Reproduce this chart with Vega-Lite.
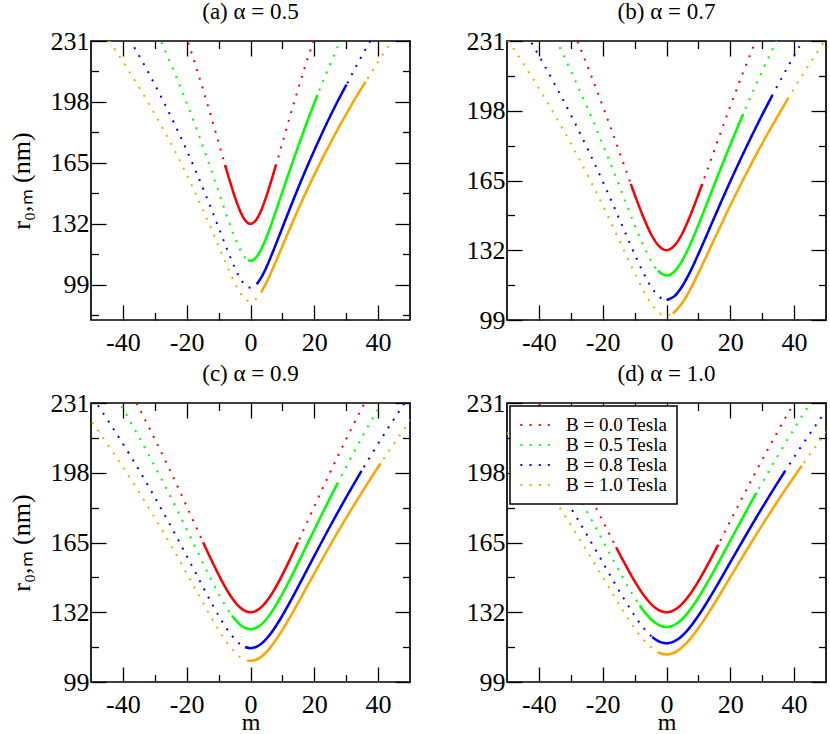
{
"$schema": "https://vega.github.io/schema/vega-lite/v6.json",
"padding": {"left": 7, "top": 0, "right": 2, "bottom": 0},
"bounds": "flush",
"columns": 2,
"spacing": {"row": 83, "column": 97},
"resolve": {"scale": {"color": "independent"}},
"config": {
  "font": "Liberation Serif",
  "view": {"stroke": "black", "strokeWidth": 1.7},
  "axis": {"domain": false, "grid": false, "tickColor": "black", "tickWidth": 1.3, "labelColor": "black", "labelFont": "Liberation Serif", "labelFontSize": 26, "titleFont": "Liberation Serif", "titleFontSize": 26, "titleFontWeight": "normal", "titleColor": "black", "labelFlush": false, "labelOverlap": false},
  "title": {"font": "Liberation Serif", "fontSize": 23, "fontWeight": "normal", "color": "black", "offset": 4, "anchor": "middle", "frame": "group"},
  "legend": {"strokeWidth": 1.5}
},
"datasets": {
"a": [
{"B":"B = 0.0 Tesla","m":-20.4,"r":234.73,"s":0},{"B":"B = 0.0 Tesla","m":-17,"r":216.6,"s":0},{"B":"B = 0.0 Tesla","m":-13.6,"r":197.39,"s":0},{"B":"B = 0.0 Tesla","m":-10.2,"r":177.23,"s":0},{"B":"B = 0.0 Tesla","m":-8,"r":164,"s":1},{"B":"B = 0.0 Tesla","m":-6.8,"r":156.98,"s":1},{"B":"B = 0.0 Tesla","m":-5.1,"r":147.58,"s":1},{"B":"B = 0.0 Tesla","m":-3.4,"r":139.57,"s":1},{"B":"B = 0.0 Tesla","m":-1.7,"r":134.02,"s":1},{"B":"B = 0.0 Tesla","m":0,"r":132,"s":1},{"B":"B = 0.0 Tesla","m":1.7,"r":134.02,"s":1},{"B":"B = 0.0 Tesla","m":3.4,"r":139.57,"s":1},{"B":"B = 0.0 Tesla","m":5.1,"r":147.58,"s":1},{"B":"B = 0.0 Tesla","m":6.8,"r":156.98,"s":1},{"B":"B = 0.0 Tesla","m":8,"r":164,"s":1},{"B":"B = 0.0 Tesla","m":10.2,"r":177.23,"s":0},{"B":"B = 0.0 Tesla","m":13.6,"r":197.39,"s":0},{"B":"B = 0.0 Tesla","m":17,"r":216.6,"s":0},{"B":"B = 0.0 Tesla","m":20.4,"r":234.73,"s":0},
{"B":"B = 0.5 Tesla","m":-34,"r":252.91,"s":0},{"B":"B = 0.5 Tesla","m":-27.2,"r":227.42,"s":0},{"B":"B = 0.5 Tesla","m":-20.4,"r":199.17,"s":0},{"B":"B = 0.5 Tesla","m":-17,"r":183.78,"s":0},{"B":"B = 0.5 Tesla","m":-13.6,"r":167.48,"s":0},{"B":"B = 0.5 Tesla","m":-10.2,"r":150.38,"s":0},{"B":"B = 0.5 Tesla","m":-6.8,"r":133.19,"s":0},{"B":"B = 0.5 Tesla","m":-5.1,"r":125.22,"s":0},{"B":"B = 0.5 Tesla","m":-3.4,"r":118.43,"s":0},{"B":"B = 0.5 Tesla","m":-1.7,"r":113.71,"s":0},{"B":"B = 0.5 Tesla","m":-0.8,"r":112.39,"s":1},{"B":"B = 0.5 Tesla","m":0,"r":112,"s":1},{"B":"B = 0.5 Tesla","m":1.7,"r":113.71,"s":1},{"B":"B = 0.5 Tesla","m":3.4,"r":118.43,"s":1},{"B":"B = 0.5 Tesla","m":5.1,"r":125.22,"s":1},{"B":"B = 0.5 Tesla","m":6.8,"r":133.19,"s":1},{"B":"B = 0.5 Tesla","m":10.2,"r":150.38,"s":1},{"B":"B = 0.5 Tesla","m":13.6,"r":167.48,"s":1},{"B":"B = 0.5 Tesla","m":17,"r":183.78,"s":1},{"B":"B = 0.5 Tesla","m":20.4,"r":199.17,"s":1},{"B":"B = 0.5 Tesla","m":21,"r":201.8,"s":1},{"B":"B = 0.5 Tesla","m":27.2,"r":227.42,"s":0},{"B":"B = 0.5 Tesla","m":34,"r":252.91,"s":0},
{"B":"B = 0.8 Tesla","m":-40.8,"r":240.47,"s":0},{"B":"B = 0.8 Tesla","m":-34,"r":220.16,"s":0},{"B":"B = 0.8 Tesla","m":-27.2,"r":197.98,"s":0},{"B":"B = 0.8 Tesla","m":-20.4,"r":173.38,"s":0},{"B":"B = 0.8 Tesla","m":-17,"r":159.99,"s":0},{"B":"B = 0.8 Tesla","m":-13.6,"r":145.8,"s":0},{"B":"B = 0.8 Tesla","m":-10.2,"r":130.91,"s":0},{"B":"B = 0.8 Tesla","m":-6.8,"r":115.95,"s":0},{"B":"B = 0.8 Tesla","m":-5.1,"r":109.01,"s":0},{"B":"B = 0.8 Tesla","m":-3.4,"r":103.09,"s":0},{"B":"B = 0.8 Tesla","m":-1.7,"r":98.99,"s":0},{"B":"B = 0.8 Tesla","m":0,"r":97.5,"s":0},{"B":"B = 0.8 Tesla","m":1.7,"r":98.99,"s":0},{"B":"B = 0.8 Tesla","m":2,"r":99.55,"s":1},{"B":"B = 0.8 Tesla","m":3.4,"r":103.09,"s":1},{"B":"B = 0.8 Tesla","m":5.1,"r":109.01,"s":1},{"B":"B = 0.8 Tesla","m":6.8,"r":115.95,"s":1},{"B":"B = 0.8 Tesla","m":10.2,"r":130.91,"s":1},{"B":"B = 0.8 Tesla","m":13.6,"r":145.8,"s":1},{"B":"B = 0.8 Tesla","m":17,"r":159.99,"s":1},{"B":"B = 0.8 Tesla","m":20.4,"r":173.38,"s":1},{"B":"B = 0.8 Tesla","m":27.2,"r":197.98,"s":1},{"B":"B = 0.8 Tesla","m":30.1,"r":207.4,"s":1},{"B":"B = 0.8 Tesla","m":34,"r":220.16,"s":0},{"B":"B = 0.8 Tesla","m":40.8,"r":240.47,"s":0},
{"B":"B = 1.0 Tesla","m":-47.6,"r":239.32,"s":0},{"B":"B = 1.0 Tesla","m":-40.8,"r":221.97,"s":0},{"B":"B = 1.0 Tesla","m":-34,"r":203.23,"s":0},{"B":"B = 1.0 Tesla","m":-27.2,"r":182.75,"s":0},{"B":"B = 1.0 Tesla","m":-20.4,"r":160.05,"s":0},{"B":"B = 1.0 Tesla","m":-17,"r":147.68,"s":0},{"B":"B = 1.0 Tesla","m":-13.6,"r":134.58,"s":0},{"B":"B = 1.0 Tesla","m":-10.2,"r":120.84,"s":0},{"B":"B = 1.0 Tesla","m":-6.8,"r":107.03,"s":0},{"B":"B = 1.0 Tesla","m":-5.1,"r":100.62,"s":0},{"B":"B = 1.0 Tesla","m":-3.4,"r":95.16,"s":0},{"B":"B = 1.0 Tesla","m":-1.7,"r":91.37,"s":0},{"B":"B = 1.0 Tesla","m":0,"r":90,"s":0},{"B":"B = 1.0 Tesla","m":1.7,"r":91.37,"s":0},{"B":"B = 1.0 Tesla","m":3.5,"r":95.45,"s":1},{"B":"B = 1.0 Tesla","m":5.1,"r":100.62,"s":1},{"B":"B = 1.0 Tesla","m":6.8,"r":107.03,"s":1},{"B":"B = 1.0 Tesla","m":10.2,"r":120.84,"s":1},{"B":"B = 1.0 Tesla","m":13.6,"r":134.58,"s":1},{"B":"B = 1.0 Tesla","m":17,"r":147.68,"s":1},{"B":"B = 1.0 Tesla","m":20.4,"r":160.05,"s":1},{"B":"B = 1.0 Tesla","m":27.2,"r":182.75,"s":1},{"B":"B = 1.0 Tesla","m":34,"r":203.23,"s":1},{"B":"B = 1.0 Tesla","m":36.1,"r":209,"s":1},{"B":"B = 1.0 Tesla","m":40.8,"r":221.97,"s":0},{"B":"B = 1.0 Tesla","m":47.6,"r":239.32,"s":0}
],
"b": [
{"B":"B = 0.0 Tesla","m":-28.95,"r":234.73,"s":0},{"B":"B = 0.0 Tesla","m":-24.13,"r":216.6,"s":0},{"B":"B = 0.0 Tesla","m":-19.3,"r":197.39,"s":0},{"B":"B = 0.0 Tesla","m":-14.48,"r":177.23,"s":0},{"B":"B = 0.0 Tesla","m":-11.2,"r":163.38,"s":1},{"B":"B = 0.0 Tesla","m":-9.65,"r":156.98,"s":1},{"B":"B = 0.0 Tesla","m":-7.24,"r":147.58,"s":1},{"B":"B = 0.0 Tesla","m":-4.83,"r":139.57,"s":1},{"B":"B = 0.0 Tesla","m":-2.41,"r":134.02,"s":1},{"B":"B = 0.0 Tesla","m":0,"r":132,"s":1},{"B":"B = 0.0 Tesla","m":2.41,"r":134.02,"s":1},{"B":"B = 0.0 Tesla","m":4.83,"r":139.57,"s":1},{"B":"B = 0.0 Tesla","m":7.24,"r":147.58,"s":1},{"B":"B = 0.0 Tesla","m":9.65,"r":156.98,"s":1},{"B":"B = 0.0 Tesla","m":11.2,"r":163.38,"s":1},{"B":"B = 0.0 Tesla","m":14.48,"r":177.23,"s":0},{"B":"B = 0.0 Tesla","m":19.3,"r":197.39,"s":0},{"B":"B = 0.0 Tesla","m":24.13,"r":216.6,"s":0},{"B":"B = 0.0 Tesla","m":28.95,"r":234.73,"s":0},
{"B":"B = 0.5 Tesla","m":-38.6,"r":243.67,"s":0},{"B":"B = 0.5 Tesla","m":-28.95,"r":213.39,"s":0},{"B":"B = 0.5 Tesla","m":-24.13,"r":196.91,"s":0},{"B":"B = 0.5 Tesla","m":-19.3,"r":179.44,"s":0},{"B":"B = 0.5 Tesla","m":-14.48,"r":161.12,"s":0},{"B":"B = 0.5 Tesla","m":-9.65,"r":142.71,"s":0},{"B":"B = 0.5 Tesla","m":-7.24,"r":134.16,"s":0},{"B":"B = 0.5 Tesla","m":-4.83,"r":126.88,"s":0},{"B":"B = 0.5 Tesla","m":-2.7,"r":122.28,"s":1},{"B":"B = 0.5 Tesla","m":0,"r":120,"s":1},{"B":"B = 0.5 Tesla","m":2.41,"r":121.83,"s":1},{"B":"B = 0.5 Tesla","m":4.83,"r":126.88,"s":1},{"B":"B = 0.5 Tesla","m":7.24,"r":134.16,"s":1},{"B":"B = 0.5 Tesla","m":9.65,"r":142.71,"s":1},{"B":"B = 0.5 Tesla","m":14.48,"r":161.12,"s":1},{"B":"B = 0.5 Tesla","m":19.3,"r":179.44,"s":1},{"B":"B = 0.5 Tesla","m":24,"r":196.47,"s":1},{"B":"B = 0.5 Tesla","m":28.95,"r":213.39,"s":0},{"B":"B = 0.5 Tesla","m":38.6,"r":243.67,"s":0},
{"B":"B = 0.8 Tesla","m":-48.25,"r":245,"s":0},{"B":"B = 0.8 Tesla","m":-38.6,"r":220.31,"s":0},{"B":"B = 0.8 Tesla","m":-28.95,"r":192.94,"s":0},{"B":"B = 0.8 Tesla","m":-24.13,"r":178.04,"s":0},{"B":"B = 0.8 Tesla","m":-19.3,"r":162.25,"s":0},{"B":"B = 0.8 Tesla","m":-14.48,"r":145.68,"s":0},{"B":"B = 0.8 Tesla","m":-9.65,"r":129.03,"s":0},{"B":"B = 0.8 Tesla","m":-7.24,"r":121.31,"s":0},{"B":"B = 0.8 Tesla","m":-4.83,"r":114.72,"s":0},{"B":"B = 0.8 Tesla","m":-2.41,"r":110.16,"s":0},{"B":"B = 0.8 Tesla","m":0,"r":108.5,"s":1},{"B":"B = 0.8 Tesla","m":2.41,"r":110.16,"s":1},{"B":"B = 0.8 Tesla","m":4.83,"r":114.72,"s":1},{"B":"B = 0.8 Tesla","m":7.24,"r":121.31,"s":1},{"B":"B = 0.8 Tesla","m":9.65,"r":129.03,"s":1},{"B":"B = 0.8 Tesla","m":14.48,"r":145.68,"s":1},{"B":"B = 0.8 Tesla","m":19.3,"r":162.25,"s":1},{"B":"B = 0.8 Tesla","m":24.13,"r":178.04,"s":1},{"B":"B = 0.8 Tesla","m":28.95,"r":192.94,"s":1},{"B":"B = 0.8 Tesla","m":33.1,"r":205.09,"s":1},{"B":"B = 0.8 Tesla","m":38.6,"r":220.31,"s":0},{"B":"B = 0.8 Tesla","m":48.25,"r":245,"s":0},
{"B":"B = 1.0 Tesla","m":-57.9,"r":249.1,"s":0},{"B":"B = 1.0 Tesla","m":-48.25,"r":228.07,"s":0},{"B":"B = 1.0 Tesla","m":-38.6,"r":205.09,"s":0},{"B":"B = 1.0 Tesla","m":-28.95,"r":179.61,"s":0},{"B":"B = 1.0 Tesla","m":-24.13,"r":165.73,"s":0},{"B":"B = 1.0 Tesla","m":-19.3,"r":151.03,"s":0},{"B":"B = 1.0 Tesla","m":-14.48,"r":135.61,"s":0},{"B":"B = 1.0 Tesla","m":-9.65,"r":120.11,"s":0},{"B":"B = 1.0 Tesla","m":-7.24,"r":112.92,"s":0},{"B":"B = 1.0 Tesla","m":-4.83,"r":106.79,"s":0},{"B":"B = 1.0 Tesla","m":-2.41,"r":102.54,"s":0},{"B":"B = 1.0 Tesla","m":0,"r":101,"s":0},{"B":"B = 1.0 Tesla","m":2,"r":102.07,"s":1},{"B":"B = 1.0 Tesla","m":4.83,"r":106.79,"s":1},{"B":"B = 1.0 Tesla","m":7.24,"r":112.92,"s":1},{"B":"B = 1.0 Tesla","m":9.65,"r":120.11,"s":1},{"B":"B = 1.0 Tesla","m":14.48,"r":135.61,"s":1},{"B":"B = 1.0 Tesla","m":19.3,"r":151.03,"s":1},{"B":"B = 1.0 Tesla","m":24.13,"r":165.73,"s":1},{"B":"B = 1.0 Tesla","m":28.95,"r":179.61,"s":1},{"B":"B = 1.0 Tesla","m":38.2,"r":204.08,"s":1},{"B":"B = 1.0 Tesla","m":48.25,"r":228.07,"s":0},{"B":"B = 1.0 Tesla","m":57.9,"r":249.1,"s":0}
],
"c": [
{"B":"B = 0.0 Tesla","m":-37.05,"r":234.73,"s":0},{"B":"B = 0.0 Tesla","m":-30.88,"r":216.6,"s":0},{"B":"B = 0.0 Tesla","m":-24.7,"r":197.39,"s":0},{"B":"B = 0.0 Tesla","m":-18.53,"r":177.23,"s":0},{"B":"B = 0.0 Tesla","m":-14.85,"r":165.08,"s":1},{"B":"B = 0.0 Tesla","m":-12.35,"r":156.98,"s":1},{"B":"B = 0.0 Tesla","m":-9.26,"r":147.58,"s":1},{"B":"B = 0.0 Tesla","m":-6.18,"r":139.57,"s":1},{"B":"B = 0.0 Tesla","m":-3.09,"r":134.02,"s":1},{"B":"B = 0.0 Tesla","m":0,"r":132,"s":1},{"B":"B = 0.0 Tesla","m":3.09,"r":134.02,"s":1},{"B":"B = 0.0 Tesla","m":6.18,"r":139.57,"s":1},{"B":"B = 0.0 Tesla","m":9.26,"r":147.58,"s":1},{"B":"B = 0.0 Tesla","m":12.35,"r":156.98,"s":1},{"B":"B = 0.0 Tesla","m":14.85,"r":165.08,"s":1},{"B":"B = 0.0 Tesla","m":18.53,"r":177.23,"s":0},{"B":"B = 0.0 Tesla","m":24.7,"r":197.39,"s":0},{"B":"B = 0.0 Tesla","m":30.88,"r":216.6,"s":0},{"B":"B = 0.0 Tesla","m":37.05,"r":234.73,"s":0},
{"B":"B = 0.5 Tesla","m":-49.4,"r":251.79,"s":0},{"B":"B = 0.5 Tesla","m":-37.05,"r":220.51,"s":0},{"B":"B = 0.5 Tesla","m":-30.88,"r":203.47,"s":0},{"B":"B = 0.5 Tesla","m":-24.7,"r":185.42,"s":0},{"B":"B = 0.5 Tesla","m":-18.53,"r":166.49,"s":0},{"B":"B = 0.5 Tesla","m":-12.35,"r":147.46,"s":0},{"B":"B = 0.5 Tesla","m":-9.26,"r":138.64,"s":0},{"B":"B = 0.5 Tesla","m":-5.8,"r":130.34,"s":1},{"B":"B = 0.5 Tesla","m":-3.09,"r":125.89,"s":1},{"B":"B = 0.5 Tesla","m":0,"r":124,"s":1},{"B":"B = 0.5 Tesla","m":3.09,"r":125.89,"s":1},{"B":"B = 0.5 Tesla","m":6.18,"r":131.11,"s":1},{"B":"B = 0.5 Tesla","m":9.26,"r":138.64,"s":1},{"B":"B = 0.5 Tesla","m":12.35,"r":147.46,"s":1},{"B":"B = 0.5 Tesla","m":18.53,"r":166.49,"s":1},{"B":"B = 0.5 Tesla","m":24.7,"r":185.42,"s":1},{"B":"B = 0.5 Tesla","m":27.3,"r":193.14,"s":1},{"B":"B = 0.5 Tesla","m":30.88,"r":203.47,"s":0},{"B":"B = 0.5 Tesla","m":37.05,"r":220.51,"s":0},{"B":"B = 0.5 Tesla","m":49.4,"r":251.79,"s":0},
{"B":"B = 0.8 Tesla","m":-49.4,"r":233.51,"s":0},{"B":"B = 0.8 Tesla","m":-37.05,"r":204.5,"s":0},{"B":"B = 0.8 Tesla","m":-30.88,"r":188.7,"s":0},{"B":"B = 0.8 Tesla","m":-24.7,"r":171.97,"s":0},{"B":"B = 0.8 Tesla","m":-18.53,"r":154.41,"s":0},{"B":"B = 0.8 Tesla","m":-12.35,"r":136.76,"s":0},{"B":"B = 0.8 Tesla","m":-9.26,"r":128.57,"s":0},{"B":"B = 0.8 Tesla","m":-6.18,"r":121.6,"s":0},{"B":"B = 0.8 Tesla","m":-3.09,"r":116.76,"s":0},{"B":"B = 0.8 Tesla","m":-1.7,"r":115.54,"s":1},{"B":"B = 0.8 Tesla","m":0,"r":115,"s":1},{"B":"B = 0.8 Tesla","m":3.09,"r":116.76,"s":1},{"B":"B = 0.8 Tesla","m":6.18,"r":121.6,"s":1},{"B":"B = 0.8 Tesla","m":9.26,"r":128.57,"s":1},{"B":"B = 0.8 Tesla","m":12.35,"r":136.76,"s":1},{"B":"B = 0.8 Tesla","m":18.53,"r":154.41,"s":1},{"B":"B = 0.8 Tesla","m":24.7,"r":171.97,"s":1},{"B":"B = 0.8 Tesla","m":30.88,"r":188.7,"s":1},{"B":"B = 0.8 Tesla","m":34.8,"r":198.85,"s":1},{"B":"B = 0.8 Tesla","m":37.05,"r":204.5,"s":0},{"B":"B = 0.8 Tesla","m":49.4,"r":233.51,"s":0},
{"B":"B = 1.0 Tesla","m":-61.75,"r":246.13,"s":0},{"B":"B = 1.0 Tesla","m":-49.4,"r":221.33,"s":0},{"B":"B = 1.0 Tesla","m":-37.05,"r":193.83,"s":0},{"B":"B = 1.0 Tesla","m":-30.88,"r":178.86,"s":0},{"B":"B = 1.0 Tesla","m":-24.7,"r":162.99,"s":0},{"B":"B = 1.0 Tesla","m":-18.53,"r":146.35,"s":0},{"B":"B = 1.0 Tesla","m":-12.35,"r":129.62,"s":0},{"B":"B = 1.0 Tesla","m":-9.26,"r":121.87,"s":0},{"B":"B = 1.0 Tesla","m":-6.18,"r":115.25,"s":0},{"B":"B = 1.0 Tesla","m":-3.09,"r":110.66,"s":0},{"B":"B = 1.0 Tesla","m":-0.8,"r":109.11,"s":1},{"B":"B = 1.0 Tesla","m":0,"r":109,"s":1},{"B":"B = 1.0 Tesla","m":3.09,"r":110.66,"s":1},{"B":"B = 1.0 Tesla","m":6.18,"r":115.25,"s":1},{"B":"B = 1.0 Tesla","m":9.26,"r":121.87,"s":1},{"B":"B = 1.0 Tesla","m":12.35,"r":129.62,"s":1},{"B":"B = 1.0 Tesla","m":18.53,"r":146.35,"s":1},{"B":"B = 1.0 Tesla","m":24.7,"r":162.99,"s":1},{"B":"B = 1.0 Tesla","m":30.88,"r":178.86,"s":1},{"B":"B = 1.0 Tesla","m":37.05,"r":193.83,"s":1},{"B":"B = 1.0 Tesla","m":40.8,"r":202.51,"s":1},{"B":"B = 1.0 Tesla","m":49.4,"r":221.33,"s":0},{"B":"B = 1.0 Tesla","m":61.75,"r":246.13,"s":0}
],
"d": [
{"B":"B = 0.0 Tesla","m":-41.4,"r":234.73,"s":0},{"B":"B = 0.0 Tesla","m":-34.5,"r":216.6,"s":0},{"B":"B = 0.0 Tesla","m":-27.6,"r":197.39,"s":0},{"B":"B = 0.0 Tesla","m":-20.7,"r":177.23,"s":0},{"B":"B = 0.0 Tesla","m":-15.8,"r":162.75,"s":1},{"B":"B = 0.0 Tesla","m":-13.8,"r":156.98,"s":1},{"B":"B = 0.0 Tesla","m":-10.35,"r":147.58,"s":1},{"B":"B = 0.0 Tesla","m":-6.9,"r":139.57,"s":1},{"B":"B = 0.0 Tesla","m":-3.45,"r":134.02,"s":1},{"B":"B = 0.0 Tesla","m":0,"r":132,"s":1},{"B":"B = 0.0 Tesla","m":3.45,"r":134.02,"s":1},{"B":"B = 0.0 Tesla","m":6.9,"r":139.57,"s":1},{"B":"B = 0.0 Tesla","m":10.35,"r":147.58,"s":1},{"B":"B = 0.0 Tesla","m":13.8,"r":156.98,"s":1},{"B":"B = 0.0 Tesla","m":16.2,"r":163.92,"s":1},{"B":"B = 0.0 Tesla","m":20.7,"r":177.23,"s":0},{"B":"B = 0.0 Tesla","m":27.6,"r":197.39,"s":0},{"B":"B = 0.0 Tesla","m":34.5,"r":216.6,"s":0},{"B":"B = 0.0 Tesla","m":41.4,"r":234.73,"s":0},
{"B":"B = 0.5 Tesla","m":-55.2,"r":253.82,"s":0},{"B":"B = 0.5 Tesla","m":-41.4,"r":222.29,"s":0},{"B":"B = 0.5 Tesla","m":-34.5,"r":205.11,"s":0},{"B":"B = 0.5 Tesla","m":-27.6,"r":186.92,"s":0},{"B":"B = 0.5 Tesla","m":-20.7,"r":167.84,"s":0},{"B":"B = 0.5 Tesla","m":-13.8,"r":148.65,"s":0},{"B":"B = 0.5 Tesla","m":-10.35,"r":139.75,"s":0},{"B":"B = 0.5 Tesla","m":-8.4,"r":135.25,"s":1},{"B":"B = 0.5 Tesla","m":-6.9,"r":132.17,"s":1},{"B":"B = 0.5 Tesla","m":-3.45,"r":126.91,"s":1},{"B":"B = 0.5 Tesla","m":0,"r":125,"s":1},{"B":"B = 0.5 Tesla","m":3.45,"r":126.91,"s":1},{"B":"B = 0.5 Tesla","m":6.9,"r":132.17,"s":1},{"B":"B = 0.5 Tesla","m":10.35,"r":139.75,"s":1},{"B":"B = 0.5 Tesla","m":13.8,"r":148.65,"s":1},{"B":"B = 0.5 Tesla","m":20.7,"r":167.84,"s":1},{"B":"B = 0.5 Tesla","m":27.6,"r":186.92,"s":1},{"B":"B = 0.5 Tesla","m":28.2,"r":188.54,"s":1},{"B":"B = 0.5 Tesla","m":34.5,"r":205.11,"s":0},{"B":"B = 0.5 Tesla","m":41.4,"r":222.29,"s":0},{"B":"B = 0.5 Tesla","m":55.2,"r":253.82,"s":0},
{"B":"B = 0.8 Tesla","m":-55.2,"r":238.18,"s":0},{"B":"B = 0.8 Tesla","m":-41.4,"r":208.59,"s":0},{"B":"B = 0.8 Tesla","m":-34.5,"r":192.48,"s":0},{"B":"B = 0.8 Tesla","m":-27.6,"r":175.41,"s":0},{"B":"B = 0.8 Tesla","m":-20.7,"r":157.5,"s":0},{"B":"B = 0.8 Tesla","m":-13.8,"r":139.49,"s":0},{"B":"B = 0.8 Tesla","m":-10.35,"r":131.15,"s":0},{"B":"B = 0.8 Tesla","m":-6.9,"r":124.03,"s":0},{"B":"B = 0.8 Tesla","m":-4.5,"r":120.3,"s":1},{"B":"B = 0.8 Tesla","m":-3.45,"r":119.09,"s":1},{"B":"B = 0.8 Tesla","m":0,"r":117.3,"s":1},{"B":"B = 0.8 Tesla","m":3.45,"r":119.09,"s":1},{"B":"B = 0.8 Tesla","m":6.9,"r":124.03,"s":1},{"B":"B = 0.8 Tesla","m":10.35,"r":131.15,"s":1},{"B":"B = 0.8 Tesla","m":13.8,"r":139.49,"s":1},{"B":"B = 0.8 Tesla","m":20.7,"r":157.5,"s":1},{"B":"B = 0.8 Tesla","m":27.6,"r":175.41,"s":1},{"B":"B = 0.8 Tesla","m":34.5,"r":192.48,"s":1},{"B":"B = 0.8 Tesla","m":37.1,"r":198.66,"s":1},{"B":"B = 0.8 Tesla","m":41.4,"r":208.59,"s":0},{"B":"B = 0.8 Tesla","m":55.2,"r":238.18,"s":0},
{"B":"B = 1.0 Tesla","m":-55.2,"r":227.42,"s":0},{"B":"B = 1.0 Tesla","m":-41.4,"r":199.17,"s":0},{"B":"B = 1.0 Tesla","m":-34.5,"r":183.78,"s":0},{"B":"B = 1.0 Tesla","m":-27.6,"r":167.48,"s":0},{"B":"B = 1.0 Tesla","m":-20.7,"r":150.38,"s":0},{"B":"B = 1.0 Tesla","m":-13.8,"r":133.19,"s":0},{"B":"B = 1.0 Tesla","m":-10.35,"r":125.22,"s":0},{"B":"B = 1.0 Tesla","m":-6.9,"r":118.43,"s":0},{"B":"B = 1.0 Tesla","m":-3.45,"r":113.71,"s":0},{"B":"B = 1.0 Tesla","m":-2.4,"r":112.84,"s":1},{"B":"B = 1.0 Tesla","m":0,"r":112,"s":1},{"B":"B = 1.0 Tesla","m":3.45,"r":113.71,"s":1},{"B":"B = 1.0 Tesla","m":6.9,"r":118.43,"s":1},{"B":"B = 1.0 Tesla","m":10.35,"r":125.22,"s":1},{"B":"B = 1.0 Tesla","m":13.8,"r":133.19,"s":1},{"B":"B = 1.0 Tesla","m":20.7,"r":150.38,"s":1},{"B":"B = 1.0 Tesla","m":27.6,"r":167.48,"s":1},{"B":"B = 1.0 Tesla","m":34.5,"r":183.78,"s":1},{"B":"B = 1.0 Tesla","m":41.4,"r":199.17,"s":1},{"B":"B = 1.0 Tesla","m":42.4,"r":201.32,"s":1},{"B":"B = 1.0 Tesla","m":55.2,"r":227.42,"s":0}
]
},
"concat": [
{
 "width": 319, "height": 279,
 "title": {"text": "(a) α = 0.5"},
 "data": {"name": "a"},
 "resolve": {"axis": {"x": "independent", "y": "independent"}},
 "layer": [
  {"mark": {"type": "line", "strokeDash": [2, 7.2], "strokeWidth": 2, "clip": true, "interpolate": "monotone"},
   "encoding": {
    "x": {"field": "m", "type": "quantitative", "scale": {"domain": [-50, 50], "nice": false, "zero": false}, "axis": {"orient": "bottom", "values": [-40, -20, 0, 20, 40], "tickSize": -15, "labelPadding": 24, "labelExpr": "toString(datum.value)", "title": null}},
    "y": {"field": "r", "type": "quantitative", "scale": {"domain": [80, 231], "nice": false, "zero": false}, "axis": {"orient": "left", "values": [99, 132, 165, 198, 231], "tickSize": -15, "labelPadding": 17, "title": "r₀,ₘ (nm)", "titlePadding": 16}},
    "color": {"field": "B", "type": "nominal", "scale": {"domain": ["B = 0.0 Tesla", "B = 0.5 Tesla", "B = 0.8 Tesla", "B = 1.0 Tesla"], "range": ["#ff0000", "#00ff00", "#0000ff", "#ffa500"]}, "legend": null}
   }},
  {"transform": [{"filter": "datum.s == 1"}],
   "mark": {"type": "line", "strokeWidth": 2.5, "clip": true, "interpolate": "monotone"},
   "encoding": {
    "x": {"field": "m", "type": "quantitative", "axis": {"orient": "top", "values": [-40, -20, 0, 20, 40], "tickSize": -15, "labels": false, "title": null}},
    "y": {"field": "r", "type": "quantitative", "axis": {"orient": "right", "values": [99, 132, 165, 198, 231], "tickSize": -15, "labels": false, "title": null}},
    "color": {"field": "B", "type": "nominal", "legend": null}
   }},
  {"mark": {"type": "point", "opacity": 0, "clip": true},
   "encoding": {
    "x": {"field": "m", "type": "quantitative", "axis": {"orient": "bottom", "values": [-30, -10, 10, 30], "tickSize": -7.5, "labels": false, "title": null}},
    "y": {"field": "r", "type": "quantitative", "axis": {"orient": "left", "values": [82.5, 115.5, 148.5, 181.5, 214.5], "tickSize": -7.5, "labels": false, "title": null}}
   }},
  {"mark": {"type": "point", "opacity": 0, "clip": true},
   "encoding": {
    "x": {"field": "m", "type": "quantitative", "axis": {"orient": "top", "values": [-30, -10, 10, 30], "tickSize": -7.5, "labels": false, "title": null}},
    "y": {"field": "r", "type": "quantitative", "axis": {"orient": "right", "values": [82.5, 115.5, 148.5, 181.5, 214.5], "tickSize": -7.5, "labels": false, "title": null}}
   }}
 ]
},
{
 "width": 319, "height": 279,
 "title": {"text": "(b) α = 0.7"},
 "data": {"name": "b"},
 "resolve": {"axis": {"x": "independent", "y": "independent"}},
 "layer": [
  {"mark": {"type": "line", "strokeDash": [2, 7.2], "strokeWidth": 2, "clip": true, "interpolate": "monotone"},
   "encoding": {
    "x": {"field": "m", "type": "quantitative", "scale": {"domain": [-50, 50], "nice": false, "zero": false}, "axis": {"orient": "bottom", "values": [-40, -20, 0, 20, 40], "tickSize": -15, "labelPadding": 24, "labelExpr": "toString(datum.value)", "title": null}},
    "y": {"field": "r", "type": "quantitative", "scale": {"domain": [99, 231], "nice": false, "zero": false}, "axis": {"orient": "left", "values": [99, 132, 165, 198, 231], "tickSize": -15, "labelPadding": 17, "title": null}},
    "color": {"field": "B", "type": "nominal", "scale": {"domain": ["B = 0.0 Tesla", "B = 0.5 Tesla", "B = 0.8 Tesla", "B = 1.0 Tesla"], "range": ["#ff0000", "#00ff00", "#0000ff", "#ffa500"]}, "legend": null}
   }},
  {"transform": [{"filter": "datum.s == 1"}],
   "mark": {"type": "line", "strokeWidth": 2.5, "clip": true, "interpolate": "monotone"},
   "encoding": {
    "x": {"field": "m", "type": "quantitative", "axis": {"orient": "top", "values": [-40, -20, 0, 20, 40], "tickSize": -15, "labels": false, "title": null}},
    "y": {"field": "r", "type": "quantitative", "axis": {"orient": "right", "values": [99, 132, 165, 198, 231], "tickSize": -15, "labels": false, "title": null}},
    "color": {"field": "B", "type": "nominal", "legend": null}
   }},
  {"mark": {"type": "point", "opacity": 0, "clip": true},
   "encoding": {
    "x": {"field": "m", "type": "quantitative", "axis": {"orient": "bottom", "values": [-30, -10, 10, 30], "tickSize": -7.5, "labels": false, "title": null}},
    "y": {"field": "r", "type": "quantitative", "axis": {"orient": "left", "values": [115.5, 148.5, 181.5, 214.5], "tickSize": -7.5, "labels": false, "title": null}}
   }},
  {"mark": {"type": "point", "opacity": 0, "clip": true},
   "encoding": {
    "x": {"field": "m", "type": "quantitative", "axis": {"orient": "top", "values": [-30, -10, 10, 30], "tickSize": -7.5, "labels": false, "title": null}},
    "y": {"field": "r", "type": "quantitative", "axis": {"orient": "right", "values": [115.5, 148.5, 181.5, 214.5], "tickSize": -7.5, "labels": false, "title": null}}
   }}
 ]
},
{
 "width": 319, "height": 279,
 "title": {"text": "(c) α = 0.9"},
 "data": {"name": "c"},
 "resolve": {"axis": {"x": "independent", "y": "independent"}},
 "layer": [
  {"mark": {"type": "line", "strokeDash": [2, 7.2], "strokeWidth": 2, "clip": true, "interpolate": "monotone"},
   "encoding": {
    "x": {"field": "m", "type": "quantitative", "scale": {"domain": [-50, 50], "nice": false, "zero": false}, "axis": {"orient": "bottom", "values": [-40, -20, 0, 20, 40], "tickSize": -15, "labelPadding": 24, "labelExpr": "toString(datum.value)", "title": "m", "titleFontSize": 24, "titlePadding": -7}},
    "y": {"field": "r", "type": "quantitative", "scale": {"domain": [99, 231], "nice": false, "zero": false}, "axis": {"orient": "left", "values": [99, 132, 165, 198, 231], "tickSize": -15, "labelPadding": 17, "title": "r₀,ₘ (nm)", "titlePadding": 16}},
    "color": {"field": "B", "type": "nominal", "scale": {"domain": ["B = 0.0 Tesla", "B = 0.5 Tesla", "B = 0.8 Tesla", "B = 1.0 Tesla"], "range": ["#ff0000", "#00ff00", "#0000ff", "#ffa500"]}, "legend": null}
   }},
  {"transform": [{"filter": "datum.s == 1"}],
   "mark": {"type": "line", "strokeWidth": 2.5, "clip": true, "interpolate": "monotone"},
   "encoding": {
    "x": {"field": "m", "type": "quantitative", "axis": {"orient": "top", "values": [-40, -20, 0, 20, 40], "tickSize": -15, "labels": false, "title": null}},
    "y": {"field": "r", "type": "quantitative", "axis": {"orient": "right", "values": [99, 132, 165, 198, 231], "tickSize": -15, "labels": false, "title": null}},
    "color": {"field": "B", "type": "nominal", "legend": null}
   }},
  {"mark": {"type": "point", "opacity": 0, "clip": true},
   "encoding": {
    "x": {"field": "m", "type": "quantitative", "axis": {"orient": "bottom", "values": [-30, -10, 10, 30], "tickSize": -7.5, "labels": false, "title": null}},
    "y": {"field": "r", "type": "quantitative", "axis": {"orient": "left", "values": [115.5, 148.5, 181.5, 214.5], "tickSize": -7.5, "labels": false, "title": null}}
   }},
  {"mark": {"type": "point", "opacity": 0, "clip": true},
   "encoding": {
    "x": {"field": "m", "type": "quantitative", "axis": {"orient": "top", "values": [-30, -10, 10, 30], "tickSize": -7.5, "labels": false, "title": null}},
    "y": {"field": "r", "type": "quantitative", "axis": {"orient": "right", "values": [115.5, 148.5, 181.5, 214.5], "tickSize": -7.5, "labels": false, "title": null}}
   }}
 ]
},
{
 "width": 319, "height": 279,
 "title": {"text": "(d) α = 1.0"},
 "data": {"name": "d"},
 "resolve": {"axis": {"x": "independent", "y": "independent"}},
 "layer": [
  {"mark": {"type": "line", "strokeDash": [2, 7.2], "strokeWidth": 2, "clip": true, "interpolate": "monotone"},
   "encoding": {
    "x": {"field": "m", "type": "quantitative", "scale": {"domain": [-50, 50], "nice": false, "zero": false}, "axis": {"orient": "bottom", "values": [-40, -20, 0, 20, 40], "tickSize": -15, "labelPadding": 24, "labelExpr": "toString(datum.value)", "title": "m", "titleFontSize": 24, "titlePadding": -7}},
    "y": {"field": "r", "type": "quantitative", "scale": {"domain": [99, 231], "nice": false, "zero": false}, "axis": {"orient": "left", "values": [99, 132, 165, 198, 231], "tickSize": -15, "labelPadding": 17, "title": null}},
    "color": {"field": "B", "type": "nominal", "scale": {"domain": ["B = 0.0 Tesla", "B = 0.5 Tesla", "B = 0.8 Tesla", "B = 1.0 Tesla"], "range": ["#ff0000", "#00ff00", "#0000ff", "#ffa500"]},
      "legend": {"orient": "top-left", "offset": 2.5, "title": null, "symbolType": "M -1 0 H 2.4", "symbolDash": [2, 7.2], "symbolStrokeWidth": 2, "symbolSize": 300, "labelFont": "Liberation Serif", "labelFontSize": 19, "labelColor": "black", "labelOffset": 27, "padding": 9, "rowPadding": 0, "strokeColor": "black", "fillColor": "white"}}
   }},
  {"transform": [{"filter": "datum.s == 1"}],
   "mark": {"type": "line", "strokeWidth": 2.5, "clip": true, "interpolate": "monotone"},
   "encoding": {
    "x": {"field": "m", "type": "quantitative", "axis": {"orient": "top", "values": [-40, -20, 0, 20, 40], "tickSize": -15, "labels": false, "title": null}},
    "y": {"field": "r", "type": "quantitative", "axis": {"orient": "right", "values": [99, 132, 165, 198, 231], "tickSize": -15, "labels": false, "title": null}},
    "color": {"field": "B", "type": "nominal", "legend": null}
   }},
  {"mark": {"type": "point", "opacity": 0, "clip": true},
   "encoding": {
    "x": {"field": "m", "type": "quantitative", "axis": {"orient": "bottom", "values": [-30, -10, 10, 30], "tickSize": -7.5, "labels": false, "title": null}},
    "y": {"field": "r", "type": "quantitative", "axis": {"orient": "left", "values": [115.5, 148.5, 181.5, 214.5], "tickSize": -7.5, "labels": false, "title": null}}
   }},
  {"mark": {"type": "point", "opacity": 0, "clip": true},
   "encoding": {
    "x": {"field": "m", "type": "quantitative", "axis": {"orient": "top", "values": [-30, -10, 10, 30], "tickSize": -7.5, "labels": false, "title": null}},
    "y": {"field": "r", "type": "quantitative", "axis": {"orient": "right", "values": [115.5, 148.5, 181.5, 214.5], "tickSize": -7.5, "labels": false, "title": null}}
   }}
 ]
}
]
}
